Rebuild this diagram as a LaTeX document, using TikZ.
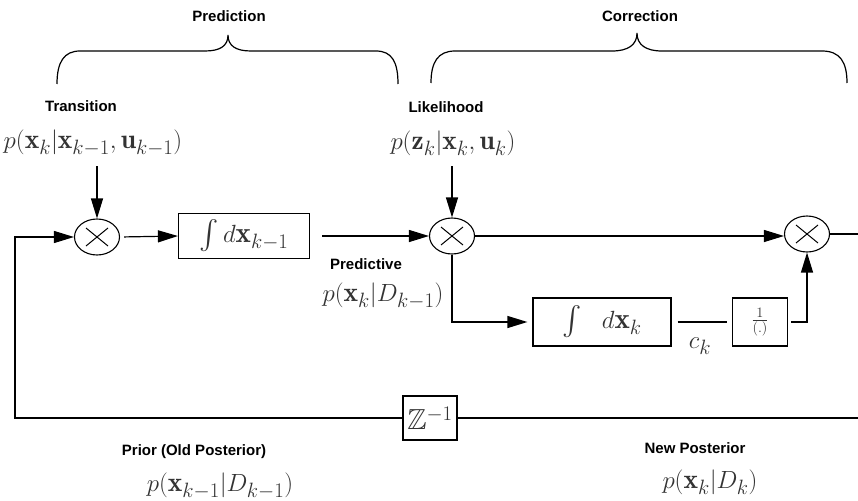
\documentclass[tikz,border=0pt]{standalone}
\usepackage{amssymb}
\usepackage{fontspec}
\newfontfamily\lblfont{Liberation Sans}
\usetikzlibrary{arrows.meta,shapes.geometric}

\begin{document}
\begin{tikzpicture}[x=1pt,y=-1pt,
  lbl/.style={font=\lblfont\bfseries\fontsize{15}{17}\selectfont},
  eq/.style={font=\fontsize{27.5}{32}\selectfont, text=black!80},
  wire/.style={line width=1.2pt},
  arr/.style={wire,-{Triangle[length=20pt,width=12pt]}},
  opbox/.style={draw, line width=1.2pt, inner sep=0pt, text=black!80,
    font=\fontsize{29}{34}\selectfont},
  mult/.style={draw, ellipse, line width=1.1pt, minimum width=45pt,
    minimum height=36pt, inner sep=0pt,
    path picture={
      \draw[line width=1pt]
        ([shift={(-11pt,-9pt)}]path picture bounding box.center) --
        ([shift={(11pt,9pt)}]path picture bounding box.center)
        ([shift={(-11pt,9pt)}]path picture bounding box.center) --
        ([shift={(11pt,-9pt)}]path picture bounding box.center);}},
  brace/.style={line width=1.2pt}]

\useasboundingbox (0,0) rectangle (858,500);

% stage headings and their braces
\node[lbl] (predlbl) at (229,16) {Prediction};
\node[lbl] (corrlbl) at (640,16) {Correction};
\draw[brace] (57,84) .. controls (57,62) and (64,51) .. (80,51) -- (205,51)
  .. controls (220,51) and (228,46) .. (228,35)
  .. controls (228,46) and (236,51) .. (251,51) -- (376,51)
  .. controls (392,51) and (398,62) .. (398,84);
\draw[brace] (431,83) .. controls (431,62) and (438,51) .. (455,51) -- (612,51)
  .. controls (628,51) and (637,45) .. (637,33)
  .. controls (637,45) and (646,51) .. (662,51) -- (822,51)
  .. controls (840,51) and (847,62) .. (847,83);

% model densities
\node[lbl] (translbl) at (81,106) {Transition};
\node[eq] (transeq) at (93,143) {$p(\mathbf{x}_k|\mathbf{x}_{k-1},\mathbf{u}_{k-1})$};
\node[lbl] (likelbl) at (446,107) {Likelihood};
\node[eq] (likeeq) at (453,143) {$p(\mathbf{z}_k|\mathbf{x}_k,\mathbf{u}_k)$};

% operators
\node[mult] (m1) at (97,237) {};
\node[mult] (m2) at (452,236) {};
\node[mult] (m3) at (807,234) {};
\node[opbox, minimum width=131pt, minimum height=45pt] (int1) at (244,236)
  {$\int d\mathbf{x}_{k-1}$};
\node[opbox, minimum width=138pt, minimum height=48pt] (int2) at (602,322)
  {$\int\hspace{16pt} d\mathbf{x}_k$};
\node[opbox, minimum width=55pt, minimum height=48pt,
  font=\fontsize{20}{24}\selectfont] (inv) at (760,322)
  {$\frac{1}{(.)}$};
\node[opbox, minimum width=54pt, minimum height=44pt] (zinv) at (430,418)
  {$\mathbb{Z}^{-1}$};

% signal labels
\node[lbl] (predictlbl) at (366,264) {Predictive};
\node[eq] (predicteq) at (383,296) {$p(\mathbf{x}_k|D_{k-1})$};
\node[eq] (ck) at (700,346) {$c_k$};
\node[lbl] (priorlbl) at (194,452) {Prior (Old Posterior)};
\node[eq] (prioreq) at (220,486) {$p(\mathbf{x}_{k-1}|D_{k-1})$};
\node[lbl] (newlbl) at (695,448) {New Posterior};
\node[eq] (neweq) at (710,482) {$p(\mathbf{x}_k|D_k)$};

% free ends of the wires
\coordinate (t0) at (97,166);
\coordinate (l0) at (452,166);
\coordinate (fb) at (15,418);
\coordinate (outR) at (858,234);
\coordinate (backR) at (858,418);

% wiring
\draw[arr] (t0) -- (m1.north);
\draw[arr] (l0) -- (m2.north);
\draw[arr] (zinv.west) -- (fb) |- (m1.west);
\draw[arr, shorten <=4pt] (m1.east) -- (int1.west);
\draw[arr, shorten <=12pt] (int1.east) -- (m2.west);
\draw[arr] (m2.east) -- (m2.east -| m3.west);
\draw[arr, shorten >=5pt] (m2.south) |- (int2.west);
\draw[wire, shorten <=6pt, shorten >=5pt] (int2.east) -- (inv.west);
\draw[arr, shorten <=3pt] (inv.east) -| (m3.south);
\draw[wire] (m3.east) -- (outR);
\draw[wire] (zinv.east) -- (backR);
\end{tikzpicture}
\end{document}
